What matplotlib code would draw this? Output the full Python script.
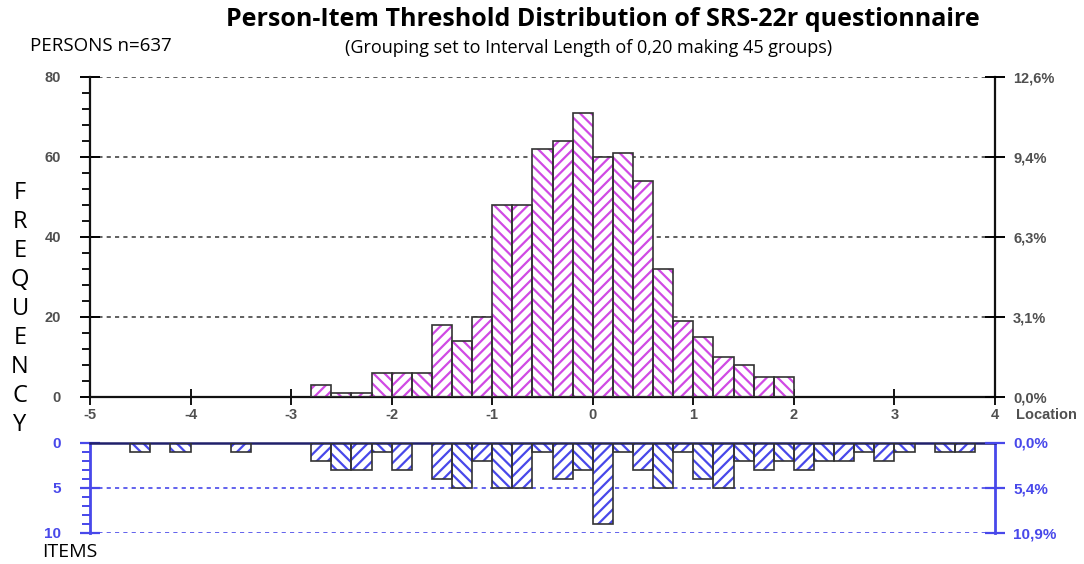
import matplotlib
matplotlib.use("Agg")
import matplotlib.pyplot as plt
import numpy as np
from matplotlib.ticker import MultipleLocator

# ---------------- data ----------------
bin_width = 0.2
person_left = [-2.8, -2.6, -2.4, -2.2, -2.0, -1.8, -1.6, -1.4, -1.2, -1.0, -0.8, -0.6,
               -0.4, -0.2, 0.0, 0.2, 0.4, 0.6, 0.8, 1.0, 1.2, 1.4, 1.6, 1.8]
person_freq = [3, 1, 1, 6, 6, 6, 18, 14, 20, 48, 48, 62,
               64, 71, 60, 61, 54, 32, 19, 15, 10, 8, 5, 5]
item_left = [-4.6, -4.2, -3.6, -2.8, -2.6, -2.4, -2.2, -2.0, -1.6, -1.4, -1.2, -1.0,
             -0.8, -0.6, -0.4, -0.2, 0.0, 0.2, 0.4, 0.6, 0.8, 1.0, 1.2, 1.4,
             1.6, 1.8, 2.0, 2.2, 2.4, 2.6, 2.8, 3.0, 3.4, 3.6]
item_freq = [1, 1, 1, 2, 3, 3, 1, 3, 4, 5, 2, 5,
             5, 1, 4, 3, 9, 1, 3, 5, 1, 4, 5, 2,
             3, 2, 3, 2, 2, 1, 2, 1, 1, 1]
x_ticks = [-5, -4, -3, -2, -1, 0, 1, 2, 3, 4]
upper_yticks = [0, 20, 40, 60, 80]
lower_yticks = [0, 5, 10]
n_persons = 637
n_items = 92
title = "Person-Item Threshold Distribution of SRS-22r questionnaire"
subtitle = "(Grouping set to Interval Length of 0,20 making 45 groups)"

# ---------------- style ----------------
W, H = 1084, 564
plt.rcParams['font.family'] = ['Liberation Sans', 'DejaVu Sans']
plt.rcParams['axes.unicode_minus'] = False
plt.rcParams['hatch.linewidth'] = 1.6
MAG = '#d04ae4'
BLUE = '#4848ea'
TICKC = '#505050'
HUM = ['Open Sans', 'DejaVu Sans']

fig = plt.figure(figsize=(W / 100, H / 100), dpi=100)

def rect(l, t, r, b):
    return [l / W, 1 - b / H, (r - l) / W, (b - t) / H]

GRID_DASH = (0, (2.5, 2.5))

# ---------------- upper (persons) ----------------
ax1 = fig.add_axes(rect(90, 77, 995, 397))
ax1.set_xlim(-5, 4)
ax1.set_ylim(0, 80)
hatches = ['\\\\\\' if round((x + 5) / bin_width) % 2 == 0 else '///' for x in person_left]
for x, h, ht in zip(person_left, person_freq, hatches):
    ax1.bar(x, h, width=bin_width, align='edge', facecolor='white', edgecolor=MAG,
            hatch=ht, linewidth=0, zorder=2)
ax1.bar(person_left, person_freq, width=bin_width, align='edge', fill=False,
        edgecolor='#333333', linewidth=1.2, zorder=3)
for v in upper_yticks[1:]:
    ax1.axhline(v, color='#444444', linestyle=GRID_DASH, linewidth=1.2, zorder=1)
ax1.spines['top'].set_visible(False)
for s in ['left', 'right', 'bottom']:
    ax1.spines[s].set_linewidth(1.6)
    ax1.spines[s].set_color('#111111')
ax1.set_yticks(upper_yticks)
ax1.yaxis.set_minor_locator(MultipleLocator(4))
ax1.tick_params(axis='y', which='major', direction='inout', length=14, width=1.4,
                labelsize=10.5, labelcolor=TICKC, pad=14)
ax1.tick_params(axis='y', which='minor', direction='out', length=6, width=1.3)
ax1.set_xticks(x_ticks)
ax1.tick_params(axis='x', which='major', direction='inout', length=12, width=1.3,
                labelsize=10.5, labelcolor=TICKC, pad=2)
for lab in ax1.get_yticklabels() + ax1.get_xticklabels():
    lab.set_fontweight('bold')

ax1r = ax1.twinx()
ax1r.set_ylim(0, 80)
ax1r.set_yticks(upper_yticks)
ax1r.set_yticklabels([f"{v / n_persons * 100:.1f}%".replace('.', ',') for v in upper_yticks])
ax1r.tick_params(axis='y', direction='inout', length=14, width=1.4, labelsize=10.5,
                 labelcolor=TICKC, pad=6)
for s in ax1r.spines.values():
    s.set_visible(False)
for lab in ax1r.get_yticklabels():
    lab.set_fontweight('bold')

fig.text(1016 / W, 1 - 415 / H, "Location", fontsize=10.5, color=TICKC,
         fontweight='bold', ha='left', va='center')

# ---------------- lower (items) ----------------
ax2 = fig.add_axes(rect(90, 442.5, 995, 533))
ax2.set_xlim(-5, 4)
ax2.set_ylim(10, 0)
hatches2 = ['\\\\\\' if round((x + 5) / bin_width) % 2 == 0 else '///' for x in item_left]
for x, h, ht in zip(item_left, item_freq, hatches2):
    ax2.bar(x, h, width=bin_width, align='edge', facecolor='white', edgecolor=BLUE,
            hatch=ht, linewidth=0, zorder=2)
ax2.bar(item_left, item_freq, width=bin_width, align='edge', fill=False,
        edgecolor='#333333', linewidth=1.2, zorder=3)
for v in lower_yticks[1:]:
    ax2.axhline(v, color=BLUE, linestyle=GRID_DASH, linewidth=1.2, zorder=1)
ax2.spines['bottom'].set_visible(False)
ax2.spines['top'].set_color('#20206a')
ax2.spines['top'].set_linewidth(1.8)
for s in ['left', 'right']:
    ax2.spines[s].set_color(BLUE)
    ax2.spines[s].set_linewidth(2.0)
ax2.set_xticks([])
ax2.set_yticks(lower_yticks)
ax2.yaxis.set_minor_locator(MultipleLocator(1))
ax2.tick_params(axis='y', which='major', direction='inout', length=14, width=1.6,
                color=BLUE, labelsize=11, labelcolor=BLUE, pad=14)
ax2.tick_params(axis='y', which='minor', direction='out', length=6, width=1.4, color=BLUE)
for lab in ax2.get_yticklabels():
    lab.set_fontweight('bold')

ax2r = ax2.twinx()
ax2r.set_ylim(10, 0)
ax2r.set_yticks(lower_yticks)
ax2r.set_yticklabels([f"{v / n_items * 100:.1f}%".replace('.', ',') for v in lower_yticks])
ax2r.tick_params(axis='y', direction='inout', length=14, width=1.6, color=BLUE,
                 labelsize=11, labelcolor=BLUE, pad=6)
for s in ax2r.spines.values():
    s.set_visible(False)
for lab in ax2r.get_yticklabels():
    lab.set_fontweight('bold')

# ---------------- texts ----------------
fig.text(603 / W, 1 - 20 / H, title, fontsize=18, fontweight='bold',
         family=HUM, ha='center', va='center')
fig.text(589 / W, 1 - 48 / H, subtitle, fontsize=13,
         family=HUM, ha='center', va='center')
fig.text(30 / W, 1 - 46 / H, "PERSONS n=637", fontsize=13.5,
         family=HUM, ha='left', va='center')
fig.text(42 / W, 1 - 552 / H, "ITEMS", fontsize=14,
         family=HUM, ha='left', va='center')
word = "FREQUENCY"
for i, ch in enumerate(word):
    fig.text(20 / W, 1 - (193 + i * 29) / H, ch, fontsize=17,
             family=HUM, ha='center', va='center')

fig.savefig("out.png", dpi=100)
